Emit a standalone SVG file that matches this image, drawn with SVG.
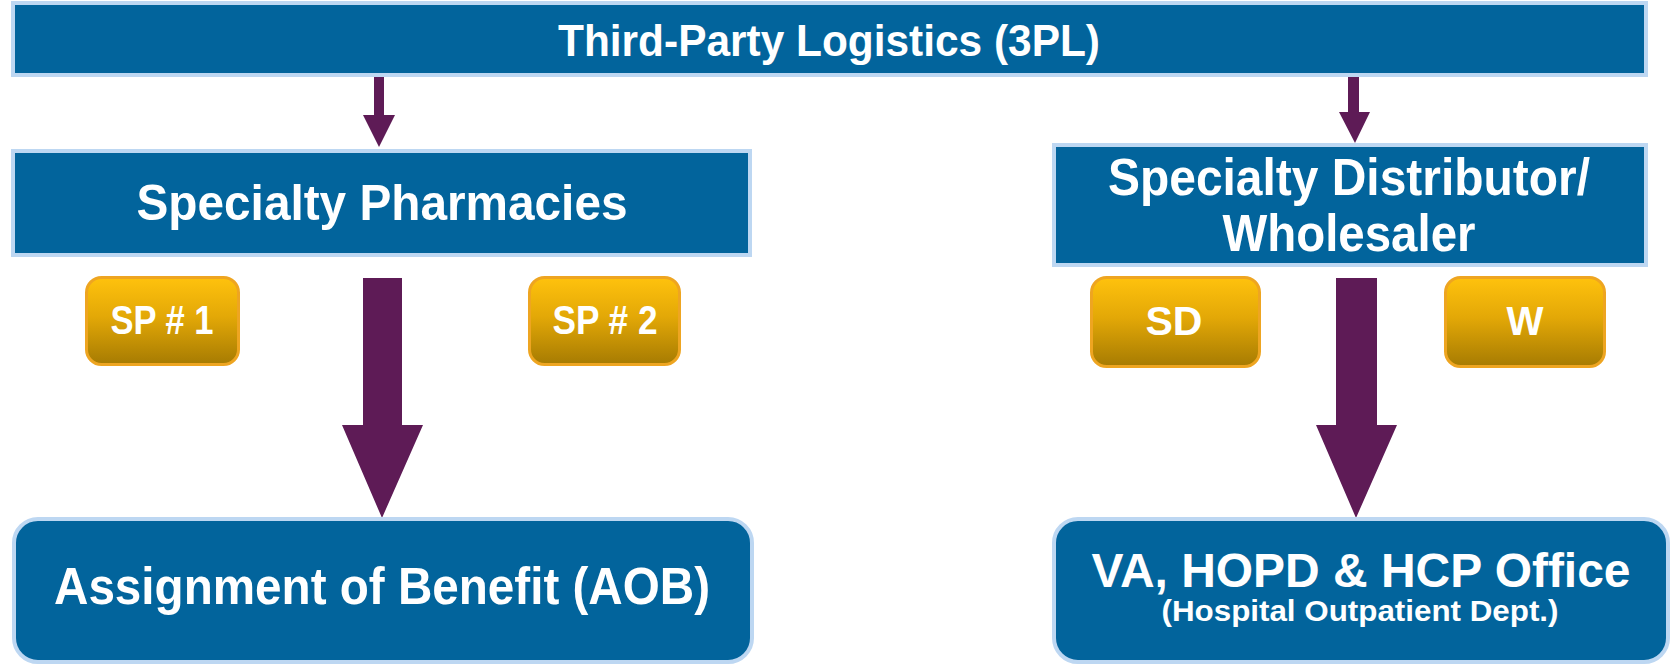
<svg xmlns="http://www.w3.org/2000/svg" width="1675" height="666" viewBox="0 0 1675 666">
<defs>
<linearGradient id="gold" x1="0" y1="0" x2="0" y2="1">
<stop offset="0" stop-color="#FFC20D"/>
<stop offset="0.45" stop-color="#E3A807"/>
<stop offset="1" stop-color="#A67B02"/>
</linearGradient>
<style>
.blue{fill:#02649C;stroke:#BDD7F2;stroke-width:4}
.gold{fill:url(#gold);stroke:#EEA521;stroke-width:3}
.arrow{fill:#5E1B56}
text{font-family:"Liberation Sans",Arial,sans-serif;font-weight:bold;fill:#FFFFFF;text-anchor:middle}
</style>
</defs>
<g id="connectors">
<polygon class="arrow" points="374,77 384,77 384,115 395,115 379,147 363,115 374,115"/>
<polygon class="arrow" points="1348,67 1359,67 1359,112 1370,112 1355,143 1339,112 1348,112"/>
<polygon class="arrow" points="363,278 402,278 402,425 423,425 382,518 342,425 363,425"/>
<polygon class="arrow" points="1336,278 1377,278 1377,425 1397,425 1356,518 1316,425 1336,425"/>
</g>
<g id="node-3pl">
<rect class="blue" x="13" y="3" width="1633" height="72"/>
<text x="829" y="56" font-size="44" textLength="542" lengthAdjust="spacingAndGlyphs">Third-Party Logistics (3PL)</text>
</g>
<g id="node-sp">
<rect class="blue" x="13" y="151" width="737" height="104"/>
<text x="382" y="220" font-size="50" textLength="491" lengthAdjust="spacingAndGlyphs">Specialty Pharmacies</text>
</g>
<g id="node-sdw">
<rect class="blue" x="1054" y="145" width="592" height="120"/>
<text x="1349" y="195" font-size="52" textLength="482" lengthAdjust="spacingAndGlyphs">Specialty Distributor/</text>
<text x="1349" y="251" font-size="52" textLength="253" lengthAdjust="spacingAndGlyphs">Wholesaler</text>
</g>
<g id="node-sp1">
<rect class="gold" x="86.5" y="277.5" width="152" height="87" rx="15"/>
<text x="162" y="334" font-size="40" textLength="103" lengthAdjust="spacingAndGlyphs">SP # 1</text>
</g>
<g id="node-sp2">
<rect class="gold" x="529.5" y="277.5" width="150" height="87" rx="15"/>
<text x="605" y="334" font-size="40" textLength="105" lengthAdjust="spacingAndGlyphs">SP # 2</text>
</g>
<g id="node-sd">
<rect class="gold" x="1091.5" y="277.5" width="168" height="89" rx="15"/>
<text x="1174" y="335" font-size="40" textLength="57" lengthAdjust="spacingAndGlyphs">SD</text>
</g>
<g id="node-w">
<rect class="gold" x="1445.5" y="277.5" width="159" height="89" rx="15"/>
<text x="1525" y="335" font-size="40" textLength="37" lengthAdjust="spacingAndGlyphs">W</text>
</g>
<g id="node-aob">
<rect class="blue" x="14" y="519" width="738" height="143" rx="24"/>
<text x="382" y="604" font-size="52" textLength="656" lengthAdjust="spacingAndGlyphs">Assignment of Benefit (AOB)</text>
</g>
<g id="node-va">
<rect class="blue" x="1054" y="519" width="614" height="143" rx="24"/>
<text x="1361" y="587" font-size="48" textLength="539" lengthAdjust="spacingAndGlyphs">VA, HOPD &amp; HCP Office</text>
<text x="1360" y="621" font-size="29" textLength="397" lengthAdjust="spacingAndGlyphs">(Hospital Outpatient Dept.)</text>
</g>
</svg>
